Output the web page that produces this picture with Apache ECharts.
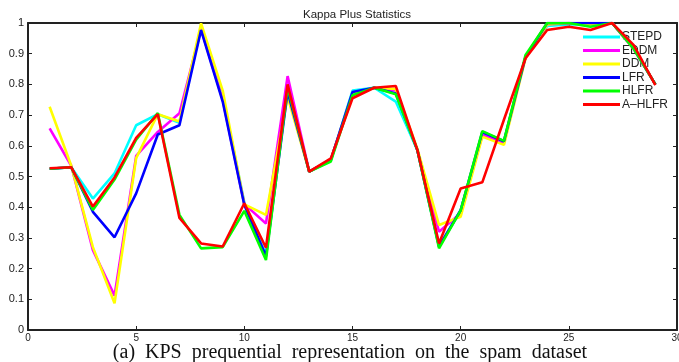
<!DOCTYPE html>
<html>

<head>
  <meta charset="utf-8">
  <title>Kappa Plus Statistics</title>
  <script src="https://cdn.jsdelivr.net/npm/echarts/dist/echarts.min.js"></script>
  <style>
    html, body {
      margin: 0;
      padding: 0;
      background: #fff;
    }

    #chart {
      width: 679px;
      height: 362px;
    }
  </style>
</head>

<body>
  <div id="chart"></div>

  <script>
    // x positions (chunk index) and the KPS values
    var xs = [1, 2, 3, 4, 5, 6, 7, 8, 9, 10, 11, 12, 13, 14, 15, 16, 17, 18, 19, 20, 21, 22, 23, 24, 25, 26, 27, 28, 29];

    var stepd = [0.525, 0.53, 0.428, 0.51, 0.667, 0.703, 0.675, 0.985, 0.76, 0.415, 0.245, 0.79, 0.516, 0.552, 0.78, 0.789, 0.744, 0.586, 0.272, 0.39, 0.64, 0.61, 0.89, 0.99, 0.995, 0.995, 1.0, 0.915, 0.8];
    var eddm = [0.657, 0.535, 0.26, 0.112, 0.567, 0.645, 0.706, 0.98, 0.75, 0.41, 0.347, 0.827, 0.516, 0.555, 0.768, 0.789, 0.78, 0.586, 0.32, 0.38, 0.635, 0.61, 0.89, 0.995, 1.0, 0.995, 1.0, 0.915, 0.8];
    var ddm = [0.727, 0.535, 0.27, 0.087, 0.56, 0.703, 0.679, 0.999, 0.78, 0.409, 0.375, 0.76, 0.516, 0.555, 0.77, 0.789, 0.785, 0.59, 0.342, 0.369, 0.63, 0.603, 0.885, 0.995, 1.0, 0.995, 1.0, 0.915, 0.8];
    var lfr = [0.525, 0.53, 0.385, 0.302, 0.445, 0.637, 0.667, 0.977, 0.744, 0.407, 0.24, 0.776, 0.516, 0.555, 0.775, 0.789, 0.77, 0.586, 0.272, 0.39, 0.645, 0.615, 0.89, 1.0, 1.0, 1.0, 1.0, 0.917, 0.8];
    var hlfr = [0.525, 0.53, 0.391, 0.49, 0.62, 0.707, 0.375, 0.266, 0.27, 0.388, 0.228, 0.79, 0.516, 0.549, 0.765, 0.789, 0.768, 0.586, 0.266, 0.39, 0.648, 0.616, 0.896, 1.0, 1.0, 0.988, 1.0, 0.917, 0.8];
    var ahlfr = [0.527, 0.53, 0.402, 0.497, 0.626, 0.703, 0.365, 0.282, 0.272, 0.413, 0.268, 0.80, 0.516, 0.559, 0.755, 0.789, 0.795, 0.586, 0.282, 0.461, 0.481, 0.685, 0.885, 0.977, 0.988, 0.977, 1.0, 0.928, 0.798];

    var names = ['STEPD', 'EDDM', 'DDM', 'LFR', 'HLFR', 'A\u2013HLFR'];
    var colors = ['#00ffff', '#ff00ff', '#ffff00', '#0000ff', '#00ff00', '#ff0000'];
    var values = [stepd, eddm, ddm, lfr, hlfr, ahlfr];

    var series = [];
    for (var i = 0; i < names.length; i++) {
      var pts = [];
      for (var j = 0; j < xs.length; j++) {
        pts.push([xs[j], values[i][j]]);
      }
      series.push({
        name: names[i],
        type: 'line',
        data: pts,
        symbol: 'none',
        color: colors[i],
        lineStyle: { width: 2.6, color: colors[i] },
        z: 2 + i
      });
    }

    var axisCol = '#222';
    var chart = echarts.init(document.getElementById('chart'));
    var option = {
      animation: false,
      title: [
        {
          text: 'Kappa Plus Statistics',
          left: 352, top: 4, textAlign: 'center',
          textStyle: { fontFamily: 'Liberation Sans', fontSize: 11.5, fontWeight: 'normal', color: '#222' }
        },
        {
          text: '(a)  KPS  prequential  representation  on  the  spam  dataset',
          left: 345, top: 338, textAlign: 'center',
          textStyle: { fontFamily: 'Liberation Serif', fontSize: 20, fontWeight: 'normal', color: '#111' }
        }
      ],
      legend: {
        data: names,
        orient: 'vertical',
        left: 578, top: 26,
        icon: 'rect',
        itemWidth: 37, itemHeight: 3,
        itemGap: 1.5,
        textStyle: { fontFamily: 'Liberation Sans', fontSize: 12, lineHeight: 12, color: '#222', padding: [0, 0, 0, -3] }
      },
      grid: { left: 28, right: 2, top: 23, bottom: 32, containLabel: false, outerBoundsMode: 'none' },
      xAxis: [
        {
          type: 'value', min: 0, max: 30, interval: 5,
          axisLine: { onZero: false, lineStyle: { color: axisCol, width: 2 } },
          axisTick: { inside: true, length: 4, lineStyle: { color: axisCol } },
          axisLabel: { fontFamily: 'Liberation Sans', fontSize: 10, color: '#222', margin: 3 },
          splitLine: { show: false }
        },
        {
          type: 'value', min: 0, max: 30, interval: 5, position: 'top',
          axisLine: { onZero: false, lineStyle: { color: axisCol, width: 2 } },
          axisTick: { inside: true, length: 4, lineStyle: { color: axisCol } },
          axisLabel: { show: false },
          splitLine: { show: false }
        }
      ],
      yAxis: [
        {
          type: 'value', min: 0, max: 1, interval: 0.1,
          axisLine: { show: true, onZero: false, lineStyle: { color: axisCol, width: 2 } },
          axisTick: { show: true, inside: true, length: 4, lineStyle: { color: axisCol } },
          axisLabel: { fontFamily: 'Liberation Sans', fontSize: 11, color: '#222', margin: 4 },
          splitLine: { show: false }
        },
        {
          type: 'value', min: 0, max: 1, interval: 0.1, position: 'right',
          axisLine: { show: true, onZero: false, lineStyle: { color: axisCol, width: 2 } },
          axisTick: { show: true, inside: true, length: 4, lineStyle: { color: axisCol } },
          axisLabel: { show: false },
          splitLine: { show: false }
        }
      ],
      series: series
    };
    chart.setOption(option);
  </script>
</body>

</html>
